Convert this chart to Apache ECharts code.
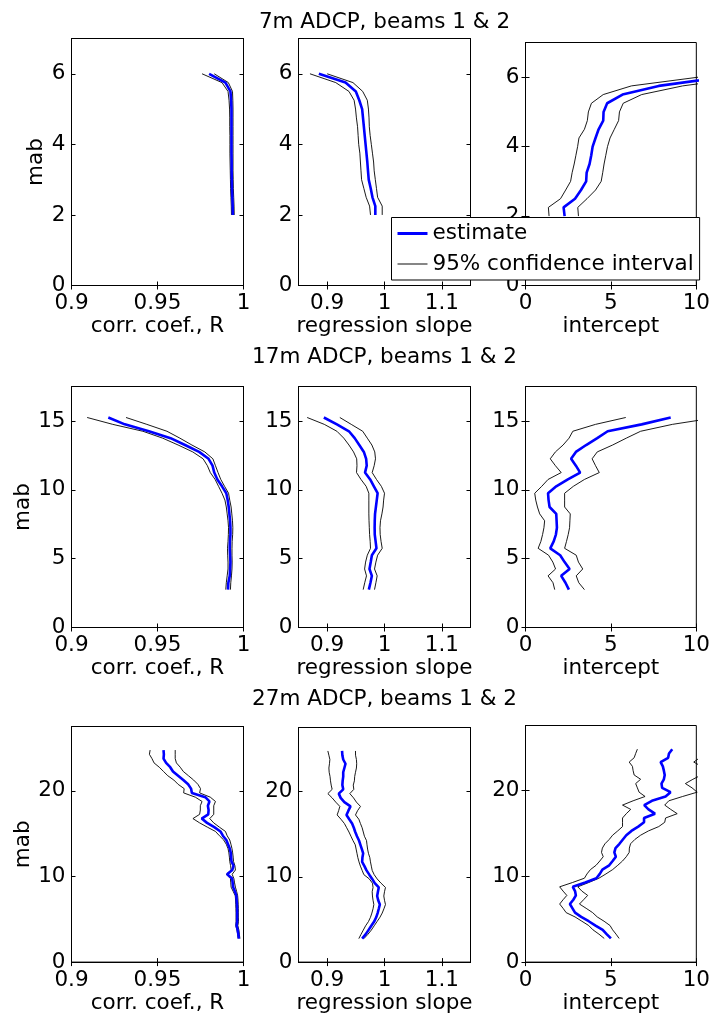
<!DOCTYPE html>
<html><head><meta charset="utf-8">
<script src="https://cdn.jsdelivr.net/npm/echarts@6/dist/echarts.min.js"></script>
<style>html,body{margin:0;padding:0;background:#fff}#c{width:713px;height:1015px}</style>
</head><body><div id="c"></div>
<script>
// ---------- DATA ----------
const titles = ['7m ADCP, beams 1 & 2', '17m ADCP, beams 1 & 2', '27m ADCP, beams 1 & 2'];
const xNames = ['corr. coef., R', 'regression slope', 'intercept'];
const yName = 'mab';
const xTicksCorr = [0.9, 0.95, 1];
const xTicksSlope = [0.9, 1, 1.1];
const xTicksInt = [0, 5, 10];
const yTicks7 = [0, 2, 4, 6];
const yTicks17 = [0, 5, 10, 15];
const yTicks27 = [0, 10, 20];

const mab7 = [2.0,2.25,2.5,2.75,3.0,3.25,3.5,3.75,4.0,4.25,4.5,4.75,5.0,5.25,5.5,5.75,6.0];
const corr7_est = [0.9938,0.9937,0.9935,0.9933,0.9932,0.9931,0.9931,0.9930,0.9930,0.9930,0.9930,0.9930,0.9930,0.9928,0.9924,0.9895,0.9800];
const corr7_lo  = [0.9930,0.9929,0.9927,0.9925,0.9924,0.9923,0.9922,0.9921,0.9921,0.9921,0.9920,0.9920,0.9919,0.9916,0.9910,0.9875,0.9759];
const corr7_hi  = [0.9946,0.9945,0.9943,0.9941,0.9940,0.9939,0.9939,0.9939,0.9939,0.9939,0.9939,0.9939,0.9939,0.9938,0.9936,0.9912,0.9830];
const slope7_est = [0.984,0.984,0.979,0.976,0.9725,0.9712,0.970,0.9685,0.967,0.9655,0.964,0.9625,0.961,0.956,0.950,0.932,0.8855];
const slope7_lo  = [0.9756,0.974,0.968,0.964,0.960,0.959,0.958,0.957,0.955,0.954,0.953,0.951,0.9495,0.947,0.938,0.915,0.870];
const slope7_hi  = [0.996,0.996,0.988,0.986,0.984,0.982,0.981,0.979,0.977,0.975,0.9735,0.973,0.972,0.970,0.962,0.945,0.900];
const int7_est = [2.29,2.23,2.9,3.25,3.55,3.58,3.75,3.85,3.93,4.1,4.28,4.55,4.57,4.78,5.68,7.8,11.5];
const int7_lo  = [1.38,1.34,2.05,2.35,2.64,2.73,2.85,2.95,3.05,3.13,3.45,3.62,3.68,3.86,4.55,6.2,10.1];
const int7_hi  = [3.10,3.06,3.6,4.1,4.43,4.52,4.6,4.7,4.8,4.95,5.2,5.45,5.5,5.72,6.8,9.2,13.0];

const mab17 = [2.75,3.25,3.75,4.25,4.75,5.25,5.75,6.25,6.75,7.25,7.75,8.25,8.75,9.25,9.75,10.25,10.75,11.25,11.75,12.25,12.75,13.25,13.75,14.25,14.75,15.25];
const corr17_est = [0.9910,0.9912,0.9920,0.9922,0.9924,0.9922,0.9920,0.9921,0.9924,0.9924,0.9922,0.9918,0.9914,0.9908,0.9900,0.9875,0.9848,0.9830,0.9820,0.9797,0.9742,0.9660,0.9576,0.9450,0.9310,0.9214];
const corr17_lo  = [0.9897,0.9900,0.9905,0.9910,0.9910,0.9908,0.9907,0.9910,0.9912,0.9913,0.9910,0.9905,0.9900,0.9892,0.9875,0.9855,0.9835,0.9807,0.9790,0.9765,0.9705,0.9620,0.9530,0.9415,0.9240,0.9091];
const corr17_hi  = [0.9924,0.9926,0.9930,0.9933,0.9934,0.9933,0.9933,0.9934,0.9937,0.9938,0.9936,0.9932,0.9928,0.9920,0.9913,0.9890,0.9868,0.9852,0.9837,0.9822,0.9775,0.9700,0.9630,0.9555,0.9438,0.9317];
const slope17_est = [0.9727,0.9755,0.978,0.9738,0.976,0.978,0.986,0.9845,0.983,0.9828,0.983,0.9835,0.985,0.9865,0.988,0.9815,0.975,0.966,0.969,0.968,0.964,0.956,0.948,0.938,0.917,0.8942];
const slope17_lo  = [0.9628,0.9655,0.9686,0.9653,0.967,0.970,0.9756,0.975,0.974,0.9735,0.973,0.9727,0.9727,0.9727,0.9727,0.968,0.959,0.9512,0.952,0.9515,0.946,0.938,0.929,0.917,0.895,0.8651];
const slope17_hi  = [0.9826,0.985,0.9872,0.9826,0.985,0.988,0.996,0.994,0.9925,0.9921,0.993,0.9955,0.9975,0.9985,1.0,0.9945,0.986,0.9785,0.982,0.9843,0.983,0.978,0.970,0.962,0.942,0.9221];
const int17_est = [2.54,2.34,2.09,2.58,2.29,2.03,1.45,1.65,1.78,1.84,1.82,1.80,1.41,1.35,1.32,1.80,2.48,3.20,2.95,2.67,2.95,3.55,4.2,4.81,6.8,8.5];
const int17_lo  = [1.71,1.61,1.32,1.76,1.6,1.35,0.74,0.9,1.0,1.08,1.12,0.83,0.7,0.6,0.54,0.95,1.32,2.09,1.75,1.45,1.75,2.2,2.55,2.77,4.1,5.87];
const int17_hi  = [3.45,3.12,2.97,3.35,3.1,2.97,2.29,2.4,2.5,2.58,2.6,2.62,2.29,2.29,2.29,2.8,3.45,4.32,4.1,3.90,4.2,5.10,5.9,6.74,8.6,11.2];

const mab27 = [2.75,3.25,3.75,4.25,4.75,5.25,5.75,6.25,6.75,7.25,7.75,8.25,8.75,9.25,9.75,10.25,10.75,11.25,11.75,12.25,12.75,13.25,13.75,14.25,14.75,15.25,15.75,16.25,16.75,17.25,17.75,18.25,18.75,19.25,19.75,20.25,20.75,21.25,21.75,22.25,22.75,23.25,23.75,24.25,24.75];
const corr27_est = [0.9973,0.997,0.9966,0.996,0.9963,0.9963,0.9963,0.9963,0.9962,0.996,0.9958,0.995,0.994,0.9937,0.9934,0.9905,0.9935,0.9942,0.993,0.9928,0.9926,0.992,0.991,0.990,0.988,0.9866,0.983,0.9788,0.9757,0.9795,0.9797,0.9793,0.9802,0.9778,0.970,0.9695,0.9678,0.965,0.962,0.959,0.9574,0.955,0.9535,0.9537,0.9535];
const corr27_lo  = [0.9969,0.9966,0.9962,0.9955,0.9957,0.9957,0.9957,0.9956,0.9955,0.9954,0.9952,0.994,0.9928,0.9926,0.9924,0.990,0.9928,0.9925,0.992,0.9918,0.9915,0.991,0.990,0.9885,0.986,0.9837,0.979,0.9745,0.9706,0.9745,0.9749,0.9749,0.9759,0.972,0.9652,0.9655,0.962,0.9595,0.956,0.9535,0.951,0.948,0.9468,0.9453,0.9457];
const corr27_hi  = [0.9979,0.9976,0.9973,0.9967,0.9971,0.997,0.997,0.997,0.9969,0.9968,0.9966,0.996,0.9953,0.9948,0.9944,0.9934,0.9953,0.995,0.9942,0.994,0.9937,0.9933,0.9927,0.992,0.9905,0.9895,0.986,0.9827,0.9804,0.9827,0.9827,0.9827,0.9837,0.9807,0.9745,0.975,0.9735,0.971,0.968,0.965,0.9632,0.961,0.9603,0.9603,0.9603];
const slope27_est = [0.961,0.967,0.972,0.977,0.982,0.9855,0.988,0.990,0.9919,0.989,0.9872,0.9885,0.990,0.983,0.9785,0.9735,0.9686,0.965,0.961,0.9615,0.9628,0.9605,0.958,0.9555,0.952,0.949,0.9465,0.9435,0.9385,0.9337,0.937,0.9407,0.930,0.9235,0.9203,0.928,0.9265,0.927,0.928,0.928,0.930,0.932,0.928,0.9265,0.926];
const slope27_lo  = [0.9552,0.959,0.963,0.967,0.972,0.9755,0.978,0.980,0.9814,0.980,0.979,0.9785,0.980,0.979,0.9735,0.964,0.961,0.958,0.9555,0.9535,0.952,0.9505,0.949,0.945,0.9415,0.938,0.934,0.930,0.924,0.9174,0.92,0.9221,0.915,0.9087,0.9012,0.9087,0.907,0.9058,0.905,0.9035,0.903,0.904,0.9047,0.903,0.9012];
const slope27_hi  = [0.964,0.971,0.977,0.982,0.987,0.992,0.996,0.999,1.0017,1.0,0.9988,1.0,1.0017,0.994,0.9872,0.982,0.9785,0.977,0.9755,0.9744,0.972,0.9705,0.9695,0.9686,0.965,0.963,0.961,0.958,0.9552,0.9494,0.953,0.9581,0.951,0.946,0.9395,0.9465,0.9455,0.9475,0.948,0.9494,0.951,0.9515,0.951,0.9495,0.9494];
const int27_est = [5.0,4.75,4.52,4.1,3.7,3.26,2.9,2.75,2.6,2.8,2.95,2.9,2.77,3.5,4.15,4.35,4.5,4.9,5.1,5.29,5.2,5.27,5.5,5.7,5.9,6.2,6.6,6.94,6.94,7.58,7.2,6.95,7.4,8.2,8.49,8.0,7.96,8.1,8.15,8.1,8.04,7.91,8.35,8.4,8.59];
const int27_lo  = [4.61,4.3,3.95,3.7,3.3,2.9,2.38,2.2,2.0,2.2,2.42,2.2,2.0,2.75,3.45,3.6,3.8,4.13,4.35,4.55,4.45,4.5,4.65,4.9,5.1,5.4,5.68,5.68,5.68,5.9,6.16,5.68,6.3,7.0,6.65,6.55,6.45,6.74,6.36,6.3,6.26,6.07,6.36,6.45,6.55];
const int27_hi  = [5.48,5.3,5.1,4.95,4.6,4.2,3.93,3.55,3.16,3.4,3.64,3.3,3.06,3.7,4.3,4.71,5.1,5.4,5.68,5.9,6.07,6.08,6.15,6.4,6.74,7.2,7.8,8.15,8.2,8.88,8.5,8.15,8.39,9.2,10.05,9.75,9.36,9.8,10.3,10.5,10.3,9.85,10.2,10.4,10.5];

// ---------- LAYOUT ----------
const FONT = '"DejaVu Sans", sans-serif';
const FS = 21.5;
const cols = [{l:71.5, r:243.5}, {l:298.5, r:470.5}, {l:525.5, r:697.5}];
const rows = [{t:[38.5,38.5,42.5], b:285.5}, {t:[386.5,386.5,386.5], b:627.5}, {t:[726.5,727.5,725.5], b:967.5}];
const titleY = [22, 357, 699.5];
const yNameGap = [22, 34, 34];

const xRanges = [[0.9, 1.0], [0.85, 1.15], [0, 10]];
const xTicks = [xTicksCorr, xTicksSlope, xTicksInt];
const yRanges = [[0, 7], [0, 17.5], [0, 27.5]];
const yTicks = [yTicks7, yTicks17, yTicks27];
const mabs = [mab7, mab17, mab27];
const panelData = [
  [[corr7_lo, corr7_hi, corr7_est], [slope7_lo, slope7_hi, slope7_est], [int7_lo, int7_hi, int7_est]],
  [[corr17_lo, corr17_hi, corr17_est], [slope17_lo, slope17_hi, slope17_est], [int17_lo, int17_hi, int17_est]],
  [[corr27_lo, corr27_hi, corr27_est], [slope27_lo, slope27_hi, slope27_est], [int27_lo, int27_hi, int27_est]]
];

const fmt = v => String(parseFloat(Number(v).toFixed(4)));
const txt = {color:'#000', fontSize:FS, fontFamily:FONT};

const grid = [], xAxis = [], yAxis = [], series = [];
let p = 0;
for (let r = 0; r < 3; r++) {
  for (let c = 0; c < 3; c++) {
    const top = rows[r].t[c];
    grid.push({left: cols[c].l, top: top, width: cols[c].r - cols[c].l, height: rows[r].b - top,
      show: true, borderColor: '#000', borderWidth: 1, backgroundColor: '#fff'});
    const xb = {gridIndex: p, type: 'value', min: xRanges[c][0], max: xRanges[c][1],
      splitLine: {show: false}, axisLine: {show: true, lineStyle: {color: '#000', width: 1}},
      axisTick: {show: true, inside: true, length: 4, customValues: xTicks[c], lineStyle: {color: '#000'}}};
    xAxis.push(Object.assign({}, xb, {position: 'bottom',
      axisLabel: Object.assign({show: true, customValues: xTicks[c], formatter: fmt, margin: 7}, txt),
      name: xNames[c], nameLocation: 'middle', nameGap: 24, nameTextStyle: txt}));
    xAxis.push(Object.assign({}, xb, {position: 'top', axisLabel: {show: false}}));
    const yb = {gridIndex: p, type: 'value', min: yRanges[r][0], max: yRanges[r][1],
      splitLine: {show: false}, axisLine: {show: true, lineStyle: {color: '#000', width: 1}},
      axisTick: {show: true, inside: true, length: 4, customValues: yTicks[r], lineStyle: {color: '#000'}}};
    const yl = Object.assign({}, yb, {position: 'left',
      axisLabel: Object.assign({show: true, customValues: yTicks[r], formatter: fmt, margin: 6}, txt)});
    if (c === 0) Object.assign(yl, {name: yName, nameLocation: 'middle', nameGap: yNameGap[r], nameTextStyle: txt});
    yAxis.push(yl);
    yAxis.push(Object.assign({}, yb, {position: 'right', axisLabel: {show: false}}));

    const [lo, hi, est] = panelData[r][c];
    const m = mabs[r];
    const mk = (arr, name, color, width, z) => ({
      type: 'line', name: name, xAxisIndex: 2 * p, yAxisIndex: 2 * p,
      data: m.map((y, i) => [arr[i], y]), symbol: 'none', showSymbol: false, clip: true,
      lineStyle: {color: color, width: width}, itemStyle: {color: color}, z: z, silent: true, animation: false
    });
    series.push(mk(lo, '95% confidence interval', '#000', 0.9, 2));
    series.push(mk(hi, '95% confidence interval', '#000', 0.9, 2));
    series.push(mk(est, 'estimate', '#0000ff', 2.6, 3));
    p++;
  }
}

const chart = echarts.init(document.getElementById('c'), null, {renderer: 'canvas'});
chart.setOption({
  animation: false,
  backgroundColor: '#fff',
  grid, xAxis, yAxis, series,
  legend: {
    show: true, orient: 'vertical', left: 391.5, top: 217.5,
    padding: [5, 6, 5, 6], itemGap: 8.5, itemWidth: 30, itemHeight: 14,
    backgroundColor: '#fff', borderColor: '#000', borderWidth: 1, borderRadius: 0,
    selectedMode: false, z: 20,
    textStyle: {color: '#000', fontSize: FS, fontFamily: FONT, lineHeight: 22},
    data: [
      {name: 'estimate', icon: 'path://M0,0H30V3H0Z', itemStyle: {color: '#0000ff', borderWidth: 0}},
      {name: '95% confidence interval', icon: 'path://M0,0H30V1.3H0Z', itemStyle: {color: '#444', borderWidth: 0}}
    ]
  },
  graphic: titles.map((t, i) => ({
    type: 'text', x: 384.5, y: titleY[i], z: 30,
    style: {text: t, fill: '#000', fontSize: FS, fontFamily: FONT, align: 'center', verticalAlign: 'middle'}
  }))
});
</script></body></html>
